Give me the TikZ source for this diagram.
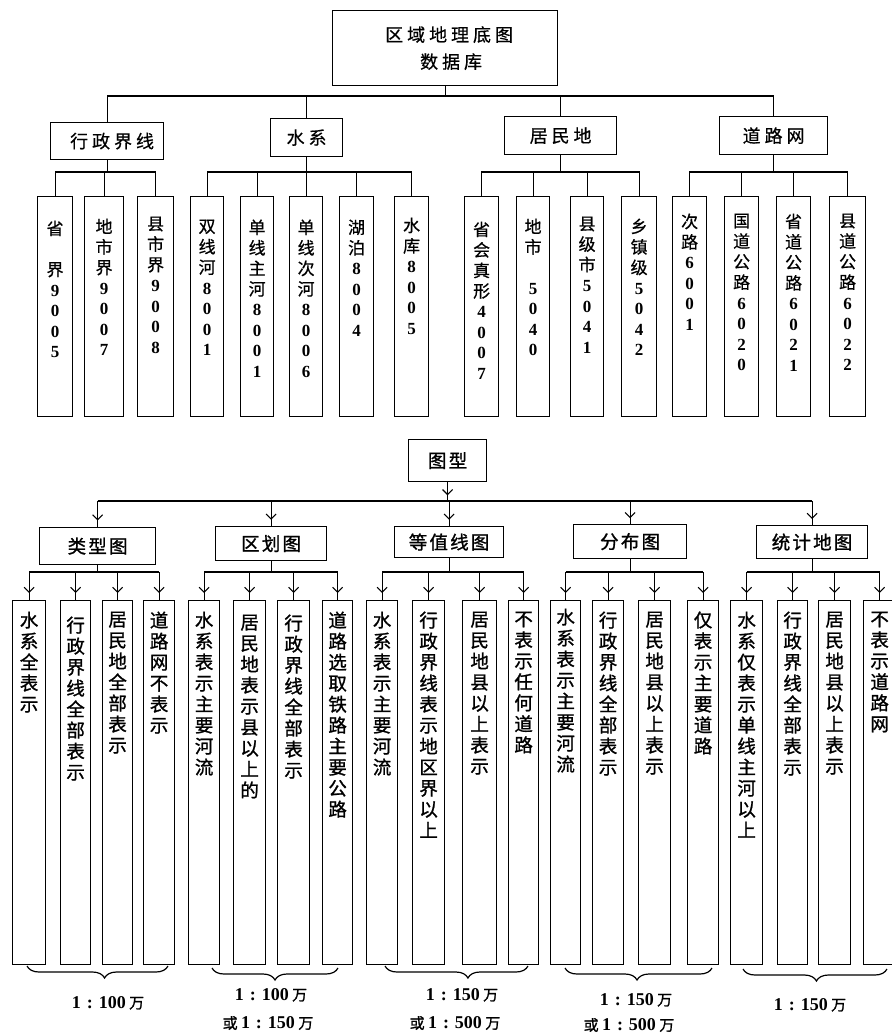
\documentclass[tikz,border=0pt]{standalone}
\usepackage{fontspec}
\setmainfont{Liberation Serif}
\newfontfamily\cjk[FakeBold=0.6]{Noto Sans CJK SC}
\newfontfamily\cjkls[FakeBold=0.6,LetterSpace=22]{Noto Sans CJK SC}
\newfontfamily\cjkb[FakeBold=1.2]{Noto Sans CJK SC}
\newfontfamily\cjkbls[FakeBold=1.2,LetterSpace=12]{Noto Sans CJK SC}
\newfontfamily\dg{Liberation Serif}
\usetikzlibrary{arrows.meta,decorations.markings,decorations.pathreplacing}

\makeatletter
\def\stkend{\stkend@x}
\newcommand\stk[1]{\ifx#1\stkend\else\stkone{#1}\expandafter\stk\fi}
\newcommand\stkone[1]{\ifx#1*\hbox to\hsize{}\else\ifnum`#1<128 \hbox to\hsize{\hss\stkdg#1\hss}\else\hbox to\hsize{\hss\stkcj#1\hss}\fi\fi}
\makeatother
\newcommand\vcol[4]{\parbox[c][#2pt][t]{#1pt}{\vspace*{#3pt}\stk#4\stkend}}
\newcommand\tset{\fontsize{17}{20.5}\selectfont\let\stkcj\cjk\def\stkdg{\dg\bfseries}}
\newcommand\bset{\fontsize{18.5}{21}\selectfont\let\stkcj\cjkb\def\stkdg{\dg\bfseries}}
\newcommand\scl[1]{{\fontsize{18}{20}\selectfont\bfseries 1\,\,:\,\,#1}\,\,{\fontsize{15}{18}\selectfont\cjkb 万}}
\newcommand\scb{{\fontsize{15}{18}\selectfont\cjkb 或}\,\,}

\begin{document}
\begin{tikzpicture}[x=1pt,y=-1pt,
  ln/.style={line width=1.2pt},
  hd/.style={draw,line width=1.2pt,inner sep=0pt,anchor=north west},
  thd/.style={hd,font=\fontsize{18}{20}\selectfont\cjkls},
  bhd/.style={hd,font=\fontsize{18.5}{20}\selectfont\cjkbls},
  tcol/.style={draw,line width=1.2pt,inner sep=0pt,anchor=north west,font=\tset},
  bcol/.style={draw,line width=1.2pt,inner sep=0pt,anchor=north west,font=\bset},
  arrm/.style={postaction={decorate},decoration={markings,mark=at position #1 with {\arrow{Straight Barb[length=5pt,width=10pt,line width=1.1pt]}}}},
  arrm/.default=0.75,
  brc/.style={line width=1.2pt,decorate,decoration={brace,mirror,amplitude=12pt,aspect=#1}},
  brc/.default=0.5,
  lab/.style={inner sep=0pt}
]
\useasboundingbox (0,0) rectangle (892,1034);

% level lines
\coordinate (L1) at (0,96);
\coordinate (L2) at (0,172);
\coordinate (L3) at (0,501);
\coordinate (L4) at (0,572);

% ---------- top tree ----------
\node[hd,minimum width=225pt,minimum height=75pt,align=center,font=\fontsize{18}{27}\selectfont\cjkls] (root) at (332,10) {\hspace*{8pt}区域地理底图\\\hspace*{12pt}数据库};

\node[thd,minimum width=113pt,minimum height=37pt] (t1) at (50,122) {\hspace*{10pt}行政界线};
\node[thd,minimum width=72pt,minimum height=38pt] (t2) at (270,118) {水系};
\node[thd,minimum width=112pt,minimum height=38pt] (t3) at (504,116) {居民地};
\node[thd,minimum width=108pt,minimum height=38pt] (t4) at (719,116) {道路网};

\node[tcol] (a1) at (37,196) {\vcol{35}{220}{24}{省*界9005}};
\node[tcol] (a2) at (84,196) {\vcol{39}{220}{22}{地市界9007}};
\node[tcol] (a3) at (137,196) {\vcol{36}{220}{20}{县市界9008}};
\node[tcol] (a4) at (190,196) {\vcol{33}{220}{23}{双线河8001}};
\node[tcol] (a5) at (240,196) {\vcol{33}{220}{23}{单线主河8001}};
\node[tcol] (a6) at (289,196) {\vcol{33}{220}{23}{单线次河8006}};
\node[tcol] (a7) at (339,196) {\vcol{34}{220}{23}{湖泊8004}};
\node[tcol] (a8) at (394,196) {\vcol{34}{220}{21}{水库8005}};
\node[tcol] (a9) at (464,196) {\vcol{34}{220}{25}{省会真形4007}};
\node[tcol] (a10) at (516,196) {\vcol{33}{220}{22}{地市*5040}};
\node[tcol] (a11) at (570,196) {\vcol{33}{220}{20}{县级市5041}};
\node[tcol] (a12) at (621,196) {\vcol{35}{220}{22}{乡镇级5042}};
\node[tcol] (a13) at (672,196) {\vcol{34}{220}{17}{次路6001}};
\node[tcol] (a14) at (724,196) {\vcol{34}{220}{17}{国道公路6020}};
\node[tcol] (a15) at (776,196) {\vcol{34}{220}{17}{省道公路6021}};
\node[tcol] (a16) at (829,196) {\vcol{36}{220}{17}{县道公路6022}};

\foreach \c in {t1,t2,t3,t4}
  \draw[ln] (root.south) -- (root.south |- L1) -| (\c.north);
\foreach \i in {1,2,3}
  \draw[ln] (t1.south) -- (t1.south |- L2) -| (a\i.north);
\foreach \i in {4,...,8}
  \draw[ln] (t2.south) -- (t2.south |- L2) -| (a\i.north);
\foreach \i in {9,...,12}
  \draw[ln] (t3.south) -- (t3.south |- L2) -| (a\i.north);
\foreach \i in {13,...,16}
  \draw[ln] (t4.south) -- (t4.south |- L2) -| (a\i.north);

% ---------- bottom tree ----------
\node[bhd,minimum width=78pt,minimum height=42pt] (g0) at (408,439) {图型};
\node[bhd,minimum width=116pt,minimum height=37pt] (g1) at (39,527) {类型图};
\node[bhd,minimum width=111pt,minimum height=34pt] (g2) at (215,526) {区划图};
\node[bhd,minimum width=109pt,minimum height=31pt] (g3) at (394,526) {等值线图};
\node[bhd,minimum width=113pt,minimum height=34pt] (g4) at (573,524) {分布图};
\node[bhd,minimum width=111pt,minimum height=33pt] (g5) at (756,525) {统计地图};

\node[bcol] (b1) at (12,600) {\vcol{33}{364}{11}{水系全表示}};
\node[bcol] (b2) at (60,600) {\vcol{30}{364}{16}{行政界线全部表示}};
\node[bcol] (b3) at (102,600) {\vcol{30}{364}{11}{居民地全部表示}};
\node[bcol] (b4) at (143,600) {\vcol{31}{364}{11}{道路网不表示}};
\node[bcol] (b5) at (188,600) {\vcol{31}{364}{11}{水系表示主要河流}};
\node[bcol] (b6) at (233,600) {\vcol{32}{364}{14}{居民地表示县以上的}};
\node[bcol] (b7) at (277,600) {\vcol{32}{364}{14}{行政界线全部表示}};
\node[bcol] (b8) at (322,600) {\vcol{30}{364}{11}{道路选取铁路主要公路}};
\node[bcol] (b9) at (366,600) {\vcol{31}{364}{11}{水系表示主要河流}};
\node[bcol] (b10) at (412,600) {\vcol{32}{364}{11}{行政界线表示地区界以上}};
\node[bcol] (b11) at (462,600) {\vcol{34}{364}{11}{居民地县以上表示}};
\node[bcol] (b12) at (508,600) {\vcol{30}{364}{11}{不表示任何道路}};
\node[bcol] (b13) at (550,600) {\vcol{30}{364}{8}{水系表示主要河流}};
\node[bcol] (b14) at (592,600) {\vcol{31}{364}{11}{行政界线全部表示}};
\node[bcol] (b15) at (638,600) {\vcol{32}{364}{11}{居民地县以上表示}};
\node[bcol] (b16) at (687,600) {\vcol{31}{364}{11}{仅表示主要道路}};
\node[bcol] (b17) at (730,600) {\vcol{32}{364}{11}{水系仅表示单线主河以上}};
\node[bcol] (b18) at (777,600) {\vcol{30}{364}{11}{行政界线全部表示}};
\node[bcol] (b19) at (818,600) {\vcol{32}{364}{11}{居民地县以上表示}};
\node[bcol] (b20) at (863,600) {\vcol{32}{364}{11}{不表示道路网}};

\draw[ln,arrm=0.7] (g0.south) -- (g0.south |- L3);
\draw[ln] (L3 -| g1.north) -- (L3 -| g5.north);
\foreach \g in {g1,g2,g3,g4,g5}
  \draw[ln,arrm] (L3 -| \g.north) -- (\g.north);

\foreach \g/\f/\l in {g1/b1/b4,g2/b5/b8,g3/b9/b12,g4/b13/b16,g5/b17/b20}{
  \draw[ln] (\g.south) -- (\g.south |- L4);
  \draw[ln] (L4 -| \f.north) -- (L4 -| \l.north);
}
\foreach \i in {1,...,20}
  \draw[ln,arrm] (L4 -| b\i.north) -- (b\i.north);

% ---------- braces and scales ----------
\draw[brc=0.55] (27,966) -- (168,966);
\draw[brc=0.5] (212,968) -- (338,968);
\draw[brc=0.58] (385,966) -- (528,966);
\draw[brc=0.49] (565,968) -- (712,968);
\draw[brc=0.51] (743,969) -- (887,969);

\node[lab] (s1) at (108,1003) {\scl{100}};
\node[lab] (s2) at (271,995) {\scl{100}};
\node[lab] (s2b) at (268,1023) {\scb\scl{150}};
\node[lab] (s3) at (462,995) {\scl{150}};
\node[lab] (s3b) at (455,1023) {\scb\scl{500}};
\node[lab] (s4) at (636,1000) {\scl{150}};
\node[lab] (s4b) at (629,1025) {\scb\scl{500}};
\node[lab] (s5) at (810,1005) {\scl{150}};
\end{tikzpicture}
\end{document}
